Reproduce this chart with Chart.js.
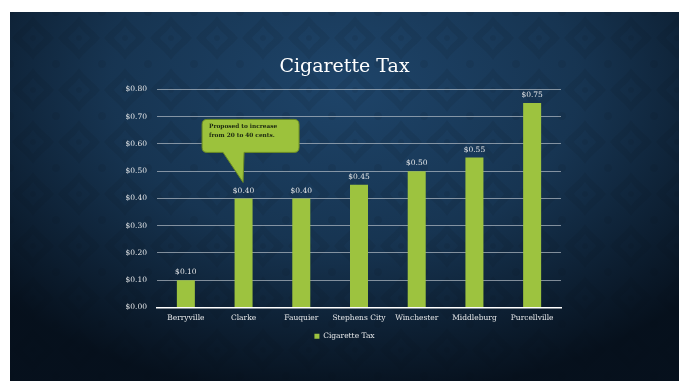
<!DOCTYPE html>
<html>
<head>
<meta charset="utf-8">
<script src="https://cdn.jsdelivr.net/npm/chart.js@4.4.1/dist/chart.umd.min.js"></script>
<style>
  html, body { margin: 0; padding: 0; background: #fff; }
  body { width: 685px; height: 381px; position: relative; overflow: hidden; }
  #slide {
    position: absolute; left: 10px; top: 12px; width: 669px; height: 369px;
    background-color: #1e4469;
    background-image:
      radial-gradient(ellipse 70% 85% at 50% 20%, rgba(6,17,28,0) 0%, rgba(6,17,28,0.3) 50%, rgba(4,12,22,0.92) 100%),
      url("data:image/svg+xml;utf8,<svg xmlns='http://www.w3.org/2000/svg' width='46' height='52'><g fill='%230b2238' fill-opacity='0.15'><path d='M23 4 C30 14 38 18 44 26 C38 34 30 38 23 48 C16 38 8 34 2 26 C8 18 16 14 23 4 Z M23 14 C27 20 31 22 34 26 C31 30 27 32 23 38 C19 32 15 30 12 26 C15 22 19 20 23 14 Z' fill-rule='evenodd'/><circle cx='23' cy='26' r='3'/><circle cx='0' cy='0' r='4'/><circle cx='46' cy='0' r='4'/><circle cx='0' cy='52' r='4'/><circle cx='46' cy='52' r='4'/></g></svg>");
  }
  canvas { display: block; }
</style>
</head>
<body>
<div id="slide"><canvas id="chart" width="669" height="369"></canvas></div>
<script>
// Data
const towns = ['Berryville', 'Clarke', 'Fauquier', 'Stephens City', 'Winchester', 'Middleburg', 'Purcellville'];
const taxRates = [0.10, 0.40, 0.40, 0.45, 0.50, 0.55, 0.75];
const yTicks = [0, 0.1, 0.2, 0.3, 0.4, 0.5, 0.6, 0.7, 0.8];
const calloutLines = ['Proposed to increase', 'from 20 to 40 cents.'];
const calloutIndex = 1; // Clarke

const fmt = v => '$' + v.toFixed(2);
const serif = '"DejaVu Serif", serif';
const green = '#9dc33f';

// value labels above bars
const valueLabels = {
  id: 'valueLabels',
  afterDatasetsDraw(chart) {
    const ctx = chart.ctx;
    const meta = chart.getDatasetMeta(0);
    ctx.save();
    ctx.font = '7.5px ' + serif;
    ctx.fillStyle = '#e4e6e8';
    ctx.textAlign = 'center';
    ctx.textBaseline = 'bottom';
    meta.data.forEach((bar, i) => {
      ctx.fillText(fmt(taxRates[i]), bar.x, bar.y - 4);
    });
    ctx.restore();
  }
};

// speech bubble pointing at the Clarke bar
const callout = {
  id: 'callout',
  afterDatasetsDraw(chart) {
    const ctx = chart.ctx;
    const bar = chart.getDatasetMeta(0).data[calloutIndex];
    const tx = bar.x - 0.5, ty = bar.y - 16;
    const l = tx - 41, r = tx + 56, t = ty - 63, b = ty - 30, rad = 5;
    ctx.save();
    ctx.beginPath();
    ctx.moveTo(l + rad, t);
    ctx.lineTo(r - rad, t);
    ctx.quadraticCurveTo(r, t, r, t + rad);
    ctx.lineTo(r, b - rad);
    ctx.quadraticCurveTo(r, b, r - rad, b);
    ctx.lineTo(tx + 1, b);
    ctx.lineTo(tx, ty);
    ctx.lineTo(tx - 20, b);
    ctx.lineTo(l + rad, b);
    ctx.quadraticCurveTo(l, b, l, b - rad);
    ctx.lineTo(l, t + rad);
    ctx.quadraticCurveTo(l, t, l + rad, t);
    ctx.closePath();
    ctx.fillStyle = '#9cc23c';
    ctx.fill();
    ctx.strokeStyle = '#6a8a25';
    ctx.lineWidth = 1;
    ctx.stroke();
    ctx.fillStyle = '#1c2810';
    ctx.font = 'bold 5.8px ' + serif;
    ctx.textAlign = 'left';
    ctx.textBaseline = 'middle';
    calloutLines.forEach((line, i) => ctx.fillText(line, l + 7, t + 7.5 + i * 9));
    ctx.restore();
  }
};

new Chart(document.getElementById('chart'), {
  type: 'bar',
  data: {
    labels: towns,
    datasets: [{
      label: 'Cigarette Tax',
      data: taxRates,
      backgroundColor: green,
      borderWidth: 0,
      categoryPercentage: 1,
      barPercentage: 0.312
    }]
  },
  options: {
    responsive: false,
    animation: false,
    layout: { padding: { left: 0, right: 0, top: 44, bottom: 31 } },
    plugins: {
      title: {
        display: true,
        text: 'Cigarette Tax',
        color: '#ffffff',
        font: { family: serif, size: 19, weight: 'normal' },
        padding: { top: 0, bottom: 10.5 }
      },
      legend: {
        position: 'bottom',
        labels: {
          color: '#e4e6e8',
          font: { family: serif, size: 7.5 },
          boxWidth: 5,
          boxHeight: 5,
          padding: 4
        }
      },
      tooltip: { enabled: false }
    },
    scales: {
      x: {
        grid: { display: false, drawTicks: false },
        border: { display: true, color: '#ffffff', width: 1.5 },
        ticks: { color: '#e4e6e8', font: { family: serif, size: 7.5 }, padding: 6, maxRotation: 0 }
      },
      y: {
        min: 0,
        max: 0.8,
        afterBuildTicks: axis => { axis.ticks = yTicks.map(v => ({ value: v })); },
        afterFit: axis => { axis.width = 147; },
        grid: { color: 'rgba(190,198,206,0.65)', lineWidth: 1, drawTicks: false },
        border: { display: false },
        ticks: { color: '#e4e6e8', font: { family: serif, size: 7.5 }, padding: 10, callback: v => fmt(v) }
      },
      // empty right-hand axis that keeps the empty space on the right of the plot
      yRight: {
        position: 'right',
        min: 0,
        max: 0.8,
        afterFit: axis => { axis.width = 118; },
        grid: { display: false },
        border: { display: false },
        ticks: { display: false }
      }
    }
  },
  plugins: [valueLabels, callout]
});
</script>
</body>
</html>
